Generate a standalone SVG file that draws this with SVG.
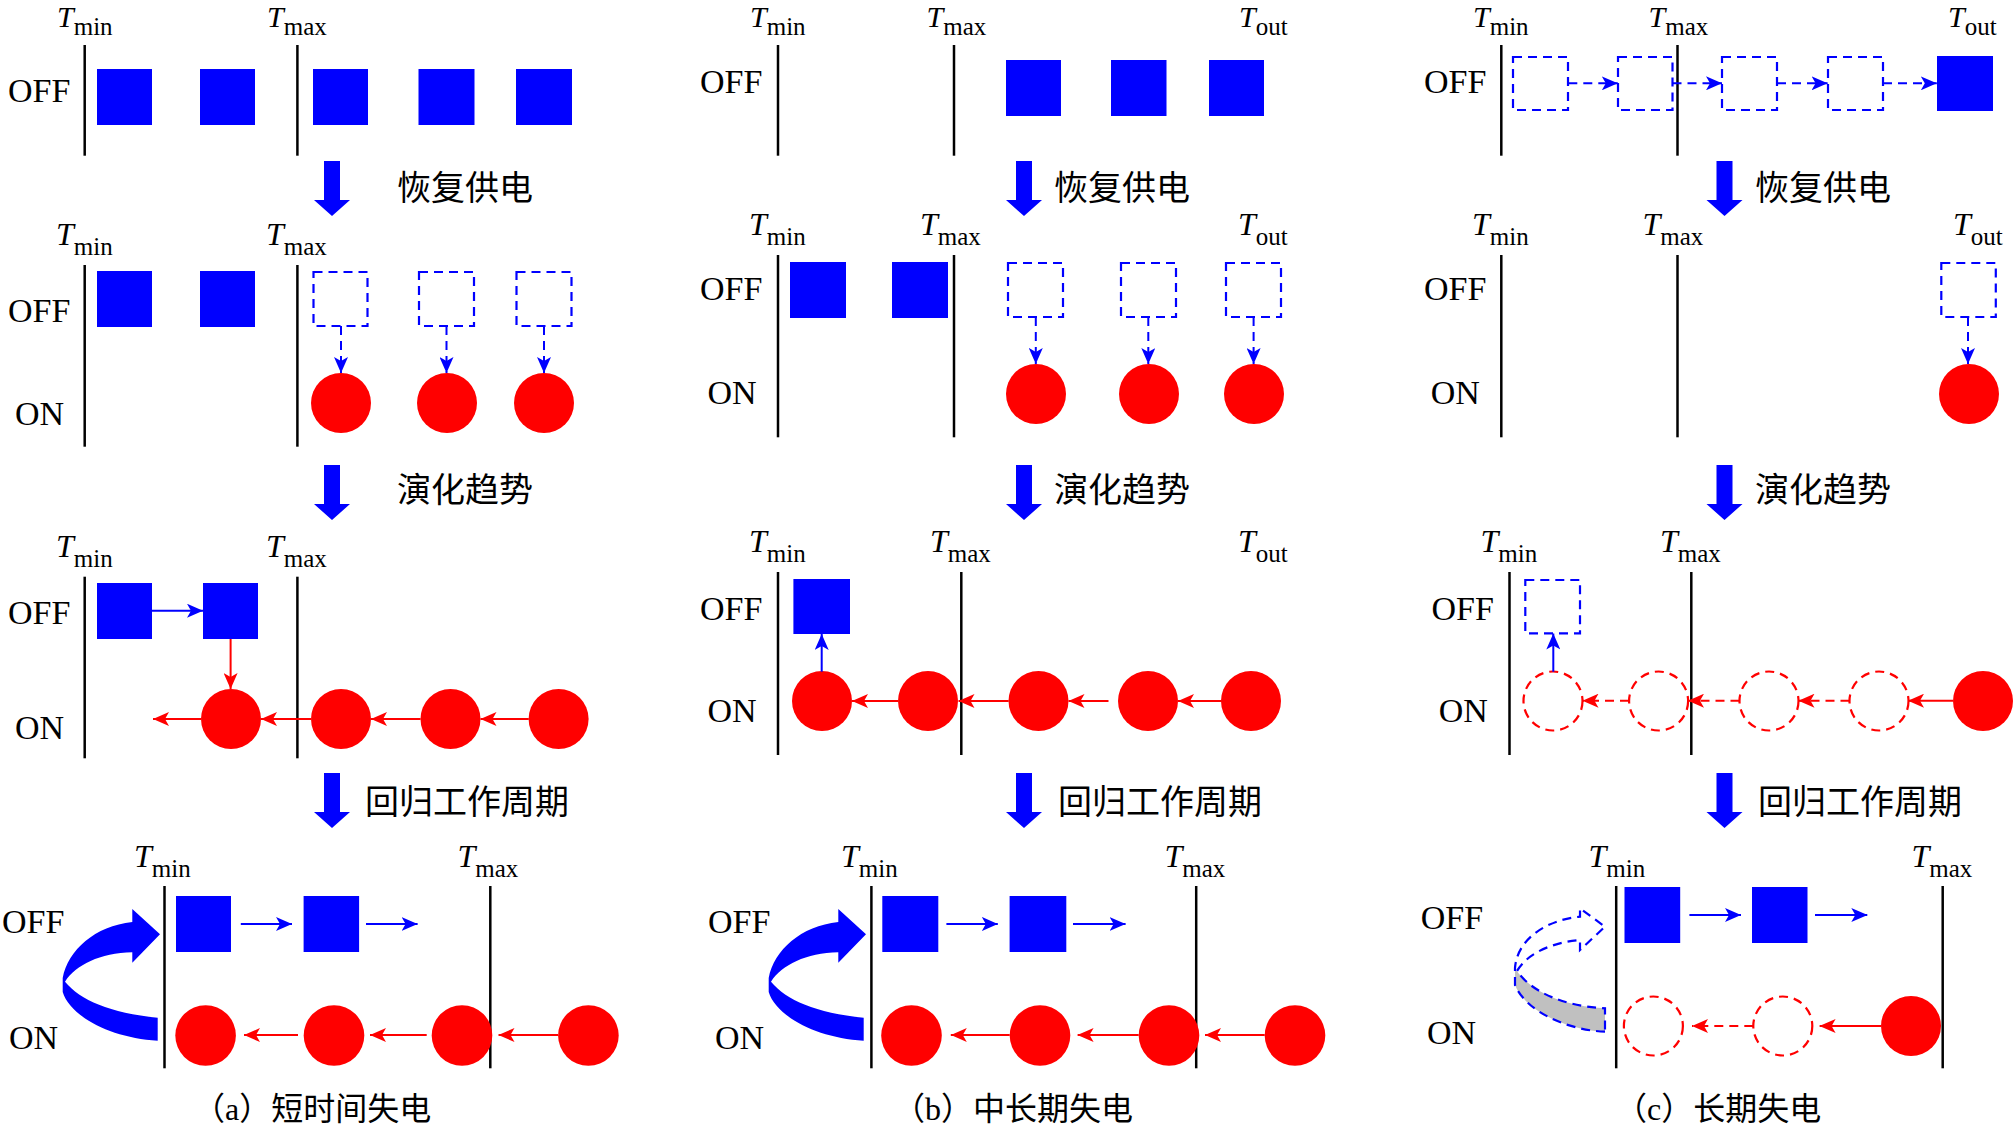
<svg xmlns="http://www.w3.org/2000/svg" xmlns:xlink="http://www.w3.org/1999/xlink" width="2013" height="1128" viewBox="0 0 2013 1128">
<style>
.ax{stroke:#000;stroke-width:2.5;fill:none}
.lbl{font-family:"Liberation Serif",serif;font-size:34px;fill:#000}
.T{font-family:"Liberation Serif",serif;font-style:italic;font-size:32px;fill:#000}
.T1{font-size:30px}
.sub{font-style:normal;font-size:25px}
.cn{font-family:"Noto Sans CJK SC",sans-serif;font-size:34px;fill:#000}
.cap{font-family:"Liberation Serif","Noto Sans CJK SC",serif;font-size:32px;fill:#000}
.sq{fill:#0000FF}
.dsq{fill:none;stroke:#0000FF;stroke-width:2.2;stroke-dasharray:9 6}
.ci{fill:#FF0000}
.dci{fill:none;stroke:#FF0000;stroke-width:2.2;stroke-dasharray:9 6}
.ab{stroke:#0000FF;stroke-width:2;fill:none;marker-end:url(#hb)}
.ar{stroke:#FF0000;stroke-width:2;fill:none;marker-end:url(#hr)}
.dash{stroke-dasharray:9 6}
.big{fill:#0000FF}
.curve{fill:#0000FF}
.dcurve{fill:none;stroke:#0000FF;stroke-width:2.2;stroke-dasharray:9 6}
</style>
<defs>
<marker id="hb" viewBox="0 0 16 14" refX="16" refY="7" markerWidth="16" markerHeight="14" markerUnits="userSpaceOnUse" orient="auto"><path d="M0,0 L16,7 L0,14 L4,7 Z" fill="#0000FF"/></marker>
<marker id="hr" viewBox="0 0 16 14" refX="16" refY="7" markerWidth="16" markerHeight="14" markerUnits="userSpaceOnUse" orient="auto"><path d="M0,0 L16,7 L0,14 L4,7 Z" fill="#FF0000"/></marker>
<path id="ba" d="M-8,1 L8,1 L8,40 L18,40 L0,56 L-18,40 L-8,40 Z"/>
<path id="ca" d="M157.7,1040.7 C110,1038 70,1016 62.7,992 L62.7,978 C68,950 95,926 132.3,922 L132.3,909 L160,934.3 L132.3,962.7 L132.3,952.3 C100,953 76,965 65,981.7 C80,1000 110,1013 157.7,1017.7 Z"/>
</defs>
<rect width="2013" height="1128" fill="#fff"/>

<!-- axes and labels -->
<g id="axes">
<line class="ax" x1="84.7" y1="45" x2="84.7" y2="155.7"/><line class="ax" x1="297.4" y1="45" x2="297.4" y2="155.7"/>
<line class="ax" x1="84.7" y1="265" x2="84.7" y2="446.7"/><line class="ax" x1="297.4" y1="265" x2="297.4" y2="446.7"/>
<line class="ax" x1="84.7" y1="576.7" x2="84.7" y2="758.3"/><line class="ax" x1="297.4" y1="576.7" x2="297.4" y2="758.3"/>
<line class="ax" x1="164.5" y1="886" x2="164.5" y2="1068.3"/><line class="ax" x1="490.3" y1="886" x2="490.3" y2="1068.3"/>
<line class="ax" x1="778" y1="45" x2="778" y2="155.7"/><line class="ax" x1="954" y1="45" x2="954" y2="155.7"/>
<line class="ax" x1="778" y1="255" x2="778" y2="437.3"/><line class="ax" x1="954" y1="255" x2="954" y2="437.3"/>
<line class="ax" x1="778" y1="572" x2="778" y2="755"/><line class="ax" x1="961.3" y1="572" x2="961.3" y2="755"/>
<line class="ax" x1="871.4" y1="886" x2="871.4" y2="1068.3"/><line class="ax" x1="1196.2" y1="886" x2="1196.2" y2="1068.3"/>
<line class="ax" x1="1501.3" y1="45" x2="1501.3" y2="155.7"/><line class="ax" x1="1677.5" y1="45" x2="1677.5" y2="155.7"/>
<line class="ax" x1="1501.3" y1="255" x2="1501.3" y2="437.3"/><line class="ax" x1="1677.5" y1="255" x2="1677.5" y2="437.3"/>
<line class="ax" x1="1509.5" y1="572" x2="1509.5" y2="755"/><line class="ax" x1="1691.3" y1="572" x2="1691.3" y2="755"/>
<line class="ax" x1="1616.2" y1="886" x2="1616.2" y2="1068.3"/><line class="ax" x1="1942.7" y1="886" x2="1942.7" y2="1068.3"/>
</g>
<g id="tlabels">
<text class="T T1" x="57" y="27">T<tspan class="sub" dy="8">min</tspan></text>
<text class="T T1" x="267" y="27">T<tspan class="sub" dy="8">max</tspan></text>
<text class="T" x="56" y="245">T<tspan class="sub" dy="9.5">min</tspan></text>
<text class="T" x="266" y="245">T<tspan class="sub" dy="9.5">max</tspan></text>
<text class="T" x="56" y="557">T<tspan class="sub" dy="9.5">min</tspan></text>
<text class="T" x="266" y="557">T<tspan class="sub" dy="9.5">max</tspan></text>
<text class="T" x="134" y="867">T<tspan class="sub" dy="9.5">min</tspan></text>
<text class="T" x="457.5" y="867">T<tspan class="sub" dy="9.5">max</tspan></text>
<text class="T T1" x="750" y="27">T<tspan class="sub" dy="8">min</tspan></text>
<text class="T T1" x="926.5" y="27">T<tspan class="sub" dy="8">max</tspan></text>
<text class="T T1" x="1239" y="27">T<tspan class="sub" dy="8">out</tspan></text>
<text class="T" x="749" y="235">T<tspan class="sub" dy="9.5">min</tspan></text>
<text class="T" x="920" y="235">T<tspan class="sub" dy="9.5">max</tspan></text>
<text class="T" x="1238" y="235">T<tspan class="sub" dy="9.5">out</tspan></text>
<text class="T" x="749" y="552">T<tspan class="sub" dy="9.5">min</tspan></text>
<text class="T" x="930" y="552">T<tspan class="sub" dy="9.5">max</tspan></text>
<text class="T" x="1238" y="552">T<tspan class="sub" dy="9.5">out</tspan></text>
<text class="T" x="841" y="867">T<tspan class="sub" dy="9.5">min</tspan></text>
<text class="T" x="1164.5" y="867">T<tspan class="sub" dy="9.5">max</tspan></text>
<text class="T T1" x="1473" y="27">T<tspan class="sub" dy="8">min</tspan></text>
<text class="T T1" x="1648.5" y="27">T<tspan class="sub" dy="8">max</tspan></text>
<text class="T T1" x="1948" y="27">T<tspan class="sub" dy="8">out</tspan></text>
<text class="T" x="1472" y="235">T<tspan class="sub" dy="9.5">min</tspan></text>
<text class="T" x="1642.5" y="235">T<tspan class="sub" dy="9.5">max</tspan></text>
<text class="T" x="1953" y="235">T<tspan class="sub" dy="9.5">out</tspan></text>
<text class="T" x="1480.5" y="552">T<tspan class="sub" dy="9.5">min</tspan></text>
<text class="T" x="1660" y="552">T<tspan class="sub" dy="9.5">max</tspan></text>
<text class="T" x="1588.5" y="867">T<tspan class="sub" dy="9.5">min</tspan></text>
<text class="T" x="1911.5" y="867">T<tspan class="sub" dy="9.5">max</tspan></text>
</g>
<g id="statelabels">
<text class="lbl" x="8" y="102">OFF</text>
<text class="lbl" x="8" y="322">OFF</text><text class="lbl" x="15" y="425">ON</text>
<text class="lbl" x="8" y="624">OFF</text><text class="lbl" x="15" y="739">ON</text>
<text class="lbl" x="2" y="933">OFF</text><text class="lbl" x="9" y="1049">ON</text>
<text class="lbl" x="700" y="93">OFF</text>
<text class="lbl" x="700" y="300">OFF</text><text class="lbl" x="707.5" y="404">ON</text>
<text class="lbl" x="700" y="620">OFF</text><text class="lbl" x="707.5" y="721.7">ON</text>
<text class="lbl" x="708" y="933">OFF</text><text class="lbl" x="715" y="1049">ON</text>
<text class="lbl" x="1424" y="93">OFF</text>
<text class="lbl" x="1424" y="300">OFF</text><text class="lbl" x="1430.7" y="404">ON</text>
<text class="lbl" x="1431.5" y="620">OFF</text><text class="lbl" x="1438.8" y="721.7">ON</text>
<text class="lbl" x="1420.7" y="929.3">OFF</text><text class="lbl" x="1427" y="1044.3">ON</text>
</g>

<!-- stage arrows and texts -->
<g id="stages">
<use xlink:href="#ba" href="#ba" class="big" x="332" y="160"/><text class="cn" x="397" y="200">恢复供电</text>
<use xlink:href="#ba" href="#ba" class="big" x="332" y="464"/><text class="cn" x="397" y="502">演化趋势</text>
<use xlink:href="#ba" href="#ba" class="big" x="332" y="772"/><text class="cn" x="365" y="814">回归工作周期</text>
<use xlink:href="#ba" href="#ba" class="big" x="1024" y="160"/><text class="cn" x="1054" y="200">恢复供电</text>
<use xlink:href="#ba" href="#ba" class="big" x="1024" y="464"/><text class="cn" x="1054" y="502">演化趋势</text>
<use xlink:href="#ba" href="#ba" class="big" x="1024" y="772"/><text class="cn" x="1058" y="814">回归工作周期</text>
<use xlink:href="#ba" href="#ba" class="big" x="1724.5" y="160"/><text class="cn" x="1755" y="200">恢复供电</text>
<use xlink:href="#ba" href="#ba" class="big" x="1724.5" y="464"/><text class="cn" x="1755" y="502">演化趋势</text>
<use xlink:href="#ba" href="#ba" class="big" x="1724.5" y="772"/><text class="cn" x="1758" y="814">回归工作周期</text>
</g>

<!-- panel a nodes -->
<g id="a-r1-s1"><rect class="sq" x="97" y="69" width="55" height="56"/></g>
<g id="a-r1-s2"><rect class="sq" x="200" y="69" width="55" height="56"/></g>
<g id="a-r1-s3"><rect class="sq" x="313" y="69" width="55" height="56"/></g>
<g id="a-r1-s4"><rect class="sq" x="418.5" y="69" width="56" height="56"/></g>
<g id="a-r1-s5"><rect class="sq" x="516" y="69" width="56" height="56"/></g>
<g id="a-r2-s1"><rect class="sq" x="97" y="271" width="55" height="56"/></g>
<g id="a-r2-s2"><rect class="sq" x="200" y="271" width="55" height="56"/></g>
<g id="a-r2-d1"><rect class="dsq" x="313.5" y="272" width="54" height="54"/></g>
<g id="a-r2-d2"><rect class="dsq" x="419" y="272" width="55" height="54"/></g>
<g id="a-r2-d3"><rect class="dsq" x="516.5" y="272" width="55" height="54"/></g>
<g id="a-r2-c1"><circle class="ci" cx="341" cy="403" r="30"/></g>
<g id="a-r2-c2"><circle class="ci" cx="447" cy="403" r="30"/></g>
<g id="a-r2-c3"><circle class="ci" cx="544" cy="403" r="30"/></g>
<g id="a-r3-s1"><rect class="sq" x="97" y="583" width="55" height="56"/></g>
<g id="a-r3-s2"><rect class="sq" x="203" y="583" width="55" height="56"/></g>
<g id="a-r3-c1"><circle class="ci" cx="231" cy="719" r="30"/></g>
<g id="a-r3-c2"><circle class="ci" cx="341" cy="719" r="30"/></g>
<g id="a-r3-c3"><circle class="ci" cx="450.5" cy="719" r="30"/></g>
<g id="a-r3-c4"><circle class="ci" cx="558.6" cy="719" r="30"/></g>
<g id="a-r4-s1"><rect class="sq" x="176" y="896" width="55" height="56"/></g>
<g id="a-r4-s2"><rect class="sq" x="303.6" y="896" width="55.5" height="56"/></g>
<g id="a-r4-c1"><circle class="ci" cx="205.6" cy="1035.5" r="30.3"/></g>
<g id="a-r4-c2"><circle class="ci" cx="334" cy="1035.5" r="30.3"/></g>
<g id="a-r4-c3"><circle class="ci" cx="462" cy="1035.5" r="30.3"/></g>
<g id="a-r4-c4"><circle class="ci" cx="588.4" cy="1035.5" r="30.3"/></g>
<g id="a-curve"><use xlink:href="#ca" href="#ca" class="curve"/></g>
<text class="cap" x="193" y="1120">（a）短时间失电</text>

<!-- panel b nodes -->
<g id="b-r1-s1"><rect class="sq" x="1006" y="60" width="55" height="56"/></g>
<g id="b-r1-s2"><rect class="sq" x="1111" y="60" width="55.5" height="56"/></g>
<g id="b-r1-s3"><rect class="sq" x="1209" y="60" width="55" height="56"/></g>
<g id="b-r2-s1"><rect class="sq" x="790" y="262" width="56" height="56"/></g>
<g id="b-r2-s2"><rect class="sq" x="892" y="262" width="56" height="56"/></g>
<g id="b-r2-d1"><rect class="dsq" x="1008" y="263" width="55" height="54"/></g>
<g id="b-r2-d2"><rect class="dsq" x="1121" y="263" width="55" height="54"/></g>
<g id="b-r2-d3"><rect class="dsq" x="1226" y="263" width="55" height="54"/></g>
<g id="b-r2-c1"><circle class="ci" cx="1036" cy="394" r="30"/></g>
<g id="b-r2-c2"><circle class="ci" cx="1149" cy="394" r="30"/></g>
<g id="b-r2-c3"><circle class="ci" cx="1254" cy="394" r="30"/></g>
<g id="b-r3-s1"><rect class="sq" x="793.4" y="579" width="56.6" height="55"/></g>
<g id="b-r3-c1"><circle class="ci" cx="822" cy="701" r="30"/></g>
<g id="b-r3-c2"><circle class="ci" cx="928" cy="701" r="30"/></g>
<g id="b-r3-c3"><circle class="ci" cx="1038.5" cy="701" r="30"/></g>
<g id="b-r3-c4"><circle class="ci" cx="1148" cy="701" r="30"/></g>
<g id="b-r3-c5"><circle class="ci" cx="1251" cy="701" r="30"/></g>
<g id="b-r4-s1"><rect class="sq" x="882.3" y="896" width="56" height="56"/></g>
<g id="b-r4-s2"><rect class="sq" x="1009.6" y="896" width="56.7" height="56"/></g>
<g id="b-r4-c1"><circle class="ci" cx="911.5" cy="1035.5" r="30.3"/></g>
<g id="b-r4-c2"><circle class="ci" cx="1040" cy="1035.5" r="30.3"/></g>
<g id="b-r4-c3"><circle class="ci" cx="1169" cy="1035.5" r="30.3"/></g>
<g id="b-r4-c4"><circle class="ci" cx="1295" cy="1035.5" r="30.3"/></g>
<g id="b-curve"><use xlink:href="#ca" href="#ca" class="curve" transform="translate(706,0)"/></g>
<text class="cap" x="893" y="1120">（b）中长期失电</text>

<!-- panel c nodes -->
<g id="c-r1-d1"><rect class="dsq" x="1513" y="57" width="55" height="53"/></g>
<g id="c-r1-d2"><rect class="dsq" x="1618" y="57" width="54.5" height="53"/></g>
<g id="c-r1-d3"><rect class="dsq" x="1722" y="57" width="55" height="53"/></g>
<g id="c-r1-d4"><rect class="dsq" x="1828" y="57" width="55" height="53"/></g>
<g id="c-r1-s1"><rect class="sq" x="1937" y="56" width="56" height="55"/></g>
<g id="c-r2-d1"><rect class="dsq" x="1941.3" y="263" width="54.5" height="54"/></g>
<g id="c-r2-c1"><circle class="ci" cx="1969" cy="394" r="30"/></g>
<g id="c-r3-d1"><rect class="dsq" x="1525.3" y="580" width="54.7" height="53.3"/></g>
<g id="c-r3-c1"><circle class="dci" cx="1553" cy="701" r="29.5"/></g>
<g id="c-r3-c2"><circle class="dci" cx="1658.6" cy="701" r="29.5"/></g>
<g id="c-r3-c3"><circle class="dci" cx="1769" cy="701" r="29.5"/></g>
<g id="c-r3-c4"><circle class="dci" cx="1879" cy="701" r="29.5"/></g>
<g id="c-r3-c5"><circle class="ci" cx="1983" cy="701" r="30"/></g>
<g id="c-r4-s1"><rect class="sq" x="1624.5" y="887" width="55.7" height="56"/></g>
<g id="c-r4-s2"><rect class="sq" x="1752" y="887" width="55.5" height="56"/></g>
<g id="c-r4-c1"><circle class="dci" cx="1653.4" cy="1026" r="29.5"/></g>
<g id="c-r4-c2"><circle class="dci" cx="1782.8" cy="1026" r="29.5"/></g>
<g id="c-r4-c3"><circle class="ci" cx="1911" cy="1026" r="30"/></g>
<g id="c-curve">
<path fill="#C0C0C0" d="M1605,1031.7 C1565,1030 1525,1010 1515,985 L1515,971 L1517,971 C1530,990 1560,1006 1605,1008.3 Z"/>
<path class="dcurve" d="M1605,1031.7 C1565,1030 1525,1010 1515,985 L1515,968 C1517,940 1545,920 1580,916.7 L1580,908.3 L1605,926.7 L1580,950 L1580,940 C1555,942 1528,952 1517,971 C1530,990 1560,1006 1605,1008.3 Z"/>
</g>
<text class="cap" x="1615" y="1120">（c）长期失电</text>

<!-- connectors -->
<g id="connectors">
<line class="ab dash" x1="341" y1="326" x2="341" y2="373"/>
<line class="ab dash" x1="446.5" y1="326" x2="446.5" y2="373"/>
<line class="ab dash" x1="544" y1="326" x2="544" y2="373"/>
<line class="ab" x1="152" y1="610.7" x2="203" y2="610.7"/>
<line class="ar" x1="230.6" y1="639" x2="230.6" y2="689"/>
<line class="ar" x1="528.8" y1="719" x2="480.5" y2="719"/>
<line class="ar" x1="420.6" y1="719" x2="371" y2="719"/>
<line class="ar" x1="311" y1="719" x2="261" y2="719"/>
<line class="ar" x1="201" y1="719" x2="153" y2="719"/>
<line class="ab" x1="240.8" y1="924" x2="292" y2="924"/>
<line class="ab" x1="366" y1="924" x2="417.6" y2="924"/>
<line class="ar" x1="558" y1="1035" x2="498.5" y2="1035"/>
<line class="ar" x1="426.7" y1="1035" x2="370" y2="1035"/>
<line class="ar" x1="298" y1="1035" x2="244" y2="1035"/>

<line class="ab dash" x1="1035.8" y1="317" x2="1035.8" y2="364"/>
<line class="ab dash" x1="1148.3" y1="317" x2="1148.3" y2="364"/>
<line class="ab dash" x1="1253.6" y1="317" x2="1253.6" y2="364"/>
<line class="ab" x1="821.7" y1="671.7" x2="821.7" y2="634"/>
<line class="ar" x1="1221.5" y1="701" x2="1178" y2="701"/>
<line class="ar" x1="1108.5" y1="701" x2="1068.5" y2="701"/>
<line class="ar" x1="1008.7" y1="701" x2="958.5" y2="701"/>
<line class="ar" x1="898" y1="701" x2="852" y2="701"/>
<line class="ab" x1="946.4" y1="924" x2="997.8" y2="924"/>
<line class="ab" x1="1073" y1="924" x2="1125.6" y2="924"/>
<line class="ar" x1="1264.7" y1="1035" x2="1205" y2="1035"/>
<line class="ar" x1="1138.7" y1="1035" x2="1077.6" y2="1035"/>
<line class="ar" x1="1009.7" y1="1035" x2="950.8" y2="1035"/>

<line class="ab dash" x1="1568.3" y1="83.3" x2="1617.8" y2="83.3"/>
<line class="ab dash" x1="1672.5" y1="83.3" x2="1722" y2="83.3"/>
<line class="ab dash" x1="1777" y1="83.3" x2="1827.6" y2="83.3"/>
<line class="ab dash" x1="1883" y1="83.3" x2="1936.8" y2="83.3"/>
<line class="ab dash" x1="1968" y1="317" x2="1968" y2="364"/>
<line class="ab" x1="1553.3" y1="671.7" x2="1553.3" y2="633.5"/>
<line class="ar" x1="1953" y1="700.7" x2="1908" y2="700.7"/>
<line class="ar dash" x1="1849.5" y1="700.7" x2="1798.5" y2="700.7"/>
<line class="ar dash" x1="1739.5" y1="700.7" x2="1688" y2="700.7"/>
<line class="ar dash" x1="1629" y1="700.7" x2="1582.5" y2="700.7"/>
<line class="ab" x1="1689.4" y1="915" x2="1741" y2="915"/>
<line class="ab" x1="1815" y1="915" x2="1867.3" y2="915"/>
<line class="ar" x1="1881" y1="1026" x2="1819.6" y2="1026"/>
<line class="ar dash" x1="1753.3" y1="1026" x2="1692" y2="1026"/>
</g>
</svg>
